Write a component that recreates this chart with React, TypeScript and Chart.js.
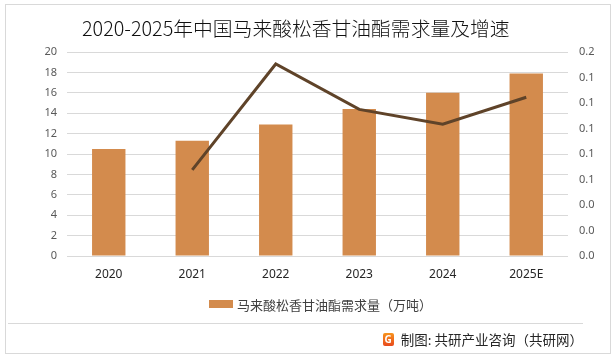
import React, { useEffect, useRef } from "react";
import { Chart, registerables } from "chart.js";

Chart.register(...registerables);

const categories = ["2020", "2021", "2022", "2023", "2024", "2025E"];
const demand = [10.5, 11.3, 12.9, 14.4, 16.0, 17.9];
const growth = [null, 0.0675, 0.1506, 0.115, 0.1033, 0.1245];
const leftAxis = { min: 0, max: 20, step: 2 };
const rightAxis = { min: 0, max: 0.16, step: 0.02 };
const titleText = "2020-2025年中国马来酸松香甘油酯需求量及增速";
const barLabel = "马来酸松香甘油酯需求量（万吨）";
const lineLabel = "增速";
const sourceText = "制图: 共研产业咨询（共研网）";

const FONT = "'Noto Sans', 'Noto Sans CJK SC', sans-serif";
const CJK = "'Noto Sans CJK SC', 'Noto Sans', sans-serif";
const BAR_COLOR = "#d38b4d";
const LINE_COLOR = "#5f4329";

export default function App() {
  const canvasRef = useRef<HTMLCanvasElement | null>(null);

  useEffect(() => {
    const canvas = canvasRef.current;
    if (!canvas) return;
    const chart = new Chart(canvas, {
      type: "bar",
      data: {
        labels: categories,
        datasets: [
          {
            type: "line",
            label: lineLabel,
            data: growth as any,
            yAxisID: "y1",
            borderColor: LINE_COLOR,
            backgroundColor: LINE_COLOR,
            borderWidth: 3,
            pointRadius: 0,
            tension: 0,
            order: 0,
          } as any,
          {
            type: "bar",
            label: barLabel,
            data: demand,
            yAxisID: "y",
            backgroundColor: BAR_COLOR,
            barPercentage: 0.4,
            categoryPercentage: 1,
            order: 1,
          },
        ],
      },
      options: {
        responsive: false,
        animation: false,
        layout: { padding: { top: 52, left: 0, right: 0, bottom: 70 } },
        plugins: {
          title: { display: false },
          legend: { display: false },
          tooltip: { enabled: false },
        },
        scales: {
          x: {
            offset: true,
            grid: { display: false, drawTicks: false },
            border: { display: false },
            ticks: {
              color: "#262626",
              font: { family: FONT, size: 12 },
              padding: 11,
            },
            afterFit: (s: any) => {
              s.height = 32;
            },
          },
          y: {
            position: "left",
            min: leftAxis.min,
            max: leftAxis.max,
            grid: { color: "#d9d9d9", drawTicks: false },
            border: { display: false },
            ticks: {
              stepSize: leftAxis.step,
              color: "#595959",
              font: { family: FONT, size: 11 },
              padding: 10,
            },
            afterFit: (s: any) => {
              s.width = 67;
            },
          },
          y1: {
            position: "right",
            min: rightAxis.min,
            max: rightAxis.max,
            grid: { display: false, drawTicks: false },
            border: { display: false },
            ticks: {
              stepSize: rightAxis.step,
              color: "#595959",
              font: { family: FONT, size: 11 },
              padding: 11,
              callback: (v: any) => Number(v).toFixed(1),
            },
            afterFit: (s: any) => {
              s.width = 48;
            },
          },
        },
      },
    });
    return () => chart.destroy();
  }, []);

  return (
    <div
      style={{
        position: "absolute",
        left: 0,
        top: 0,
        width: 616,
        height: 358,
        background: "#ffffff",
        overflow: "hidden",
      }}
    >
      <div
        style={{
          position: "absolute",
          left: 5,
          top: 4,
          width: 606,
          height: 350,
          boxSizing: "border-box",
          border: "1px solid #d9d9d9",
        }}
      />
      <canvas
        ref={canvasRef}
        width={616}
        height={358}
        style={{ position: "absolute", left: 0, top: 0, width: 616, height: 358 }}
      />
      <div
        style={{
          position: "absolute",
          left: 82,
          top: 16,
          height: 24,
          lineHeight: "24px",
          fontFamily: CJK,
          fontSize: 19.8,
          fontWeight: 300,
          color: "#111111",
          whiteSpace: "nowrap",
        }}
      >
        {titleText}
      </div>
      <div
        style={{
          position: "absolute",
          left: 209,
          top: 295,
          height: 18,
          display: "flex",
          alignItems: "center",
          fontFamily: CJK,
          fontSize: 13,
          color: "#404040",
          whiteSpace: "nowrap",
        }}
      >
        <span
          style={{
            display: "inline-block",
            width: 24,
            height: 8,
            background: BAR_COLOR,
            marginRight: 4,
          }}
        />
        <span>{barLabel}</span>
      </div>
      <div
        style={{
          position: "absolute",
          left: 8,
          top: 323,
          width: 575,
          height: 1,
          background: "#d9d9d9",
        }}
      />
      <div
        style={{
          position: "absolute",
          right: 616 - 583,
          top: 330,
          height: 18,
          display: "flex",
          alignItems: "center",
          fontFamily: CJK,
          fontSize: 13.5,
          color: "#262626",
          whiteSpace: "nowrap",
        }}
      >
        <span
          style={{
            display: "inline-block",
            width: 11,
            height: 13,
            borderRadius: 2,
            background: "linear-gradient(#f7941d, #e8491d)",
            color: "#ffffff",
            fontFamily: FONT,
            fontWeight: "bold",
            fontSize: 10,
            lineHeight: "13px",
            textAlign: "center",
            marginRight: 7,
          }}
        >
          G
        </span>
        <span>{sourceText}</span>
      </div>
    </div>
  );
}
